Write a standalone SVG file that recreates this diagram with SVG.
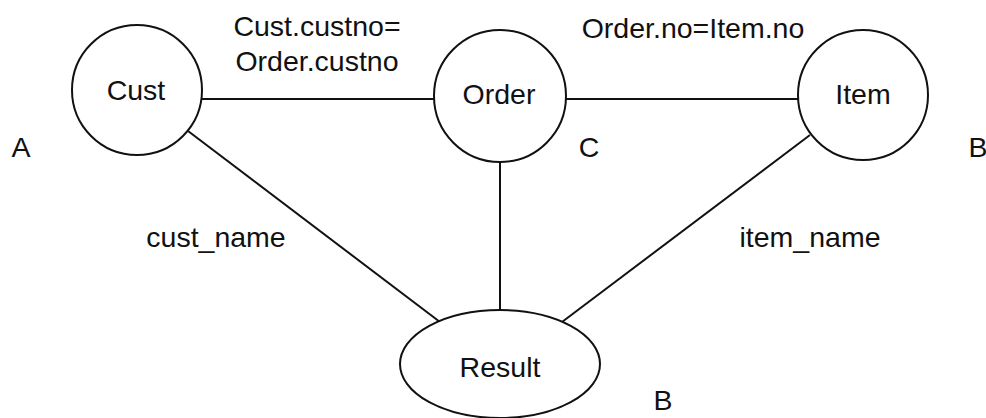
<svg xmlns="http://www.w3.org/2000/svg" width="986" height="418" viewBox="0 0 986 418">
<style>
.shape{fill:#fff;stroke:#111;stroke-width:2}
.edge{stroke:#111;stroke-width:2;fill:none}
text{font-family:"Liberation Sans",Arial,sans-serif;font-size:28.5px;fill:#111;text-anchor:middle}
</style>
<rect width="986" height="418" fill="#fff"/>
<g id="connectors">
<line class="edge" x1="202" y1="99" x2="434" y2="99"/>
<line class="edge" x1="566" y1="99" x2="798" y2="99"/>
<line class="edge" x1="188" y1="131" x2="440" y2="322"/>
<line class="edge" x1="500" y1="162" x2="500" y2="310"/>
<line class="edge" x1="810" y1="135" x2="562" y2="322"/>
</g>
<g id="node-cust"><circle class="shape" cx="137" cy="90" r="65"/><text x="136" y="100">Cust</text></g>
<g id="node-order"><circle class="shape" cx="500" cy="96" r="66"/><text x="499" y="104">Order</text></g>
<g id="node-item"><circle class="shape" cx="863" cy="95" r="65"/><text x="863" y="104">Item</text></g>
<g id="node-result"><ellipse class="shape" cx="500" cy="364" rx="100" ry="54"/><text x="500" y="377">Result</text></g>
<g id="labels">
<text x="317" y="36">Cust.custno=</text>
<text x="317" y="71">Order.custno</text>
<text x="693" y="38">Order.no=Item.no</text>
<text x="216" y="247">cust_name</text>
<text x="810" y="247">item_name</text>
<text x="21" y="157">A</text>
<text x="589" y="157">C</text>
<text x="978" y="157">B</text>
<text x="663" y="410">B</text>
</g>
</svg>
